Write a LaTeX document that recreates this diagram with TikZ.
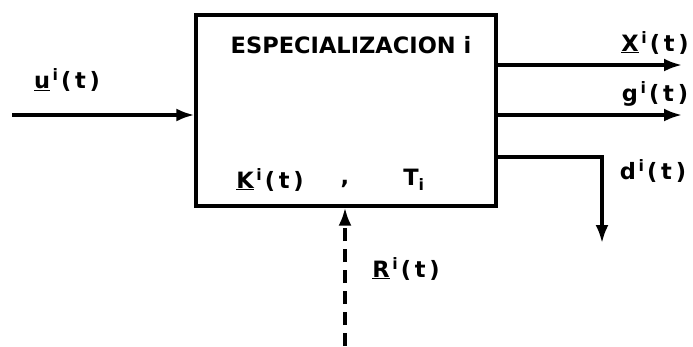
\documentclass[tikz,border=0pt]{standalone}
\usepackage{fontspec}
\setmainfont{DejaVu Sans}
\usepackage{tikz}
\usetikzlibrary{arrows.meta, positioning, calc}

\newcommand{\sv}[1]{\textsuperscript{\,#1\,}}

\begin{document}
\begin{tikzpicture}[
    x=1pt, y=-1pt,
    block/.style={rectangle, draw, line width=3.4pt, minimum width=300pt, minimum height=191pt, inner sep=0pt},
    lbl/.style={font=\fontsize{22.5}{24}\selectfont\bfseries, inner sep=1pt},
    line/.style={draw, -{Latex[length=18pt, width=13pt]}, line width=3.2pt},
    dline/.style={draw, -{Latex[length=18pt, width=13pt]}, line width=3.2pt, dash pattern=on 13pt off 8pt}
]
    \useasboundingbox (0,0) rectangle (693,346);
    % Block
    \node [block] (espec) at (346,110.5) {};
    \node [lbl] (title) at (351,45) {ESPECIALIZACION i};
    \node [lbl] (kvar) at (270,180) {\underline{K}\sv{i}(\,t\,)};
    \node [lbl] (comma) at (345,184) {,};
    \node [lbl] (tvar) at (414,180) {T\textsubscript{i}};

    % Ends
    \coordinate (uin) at (12,115);
    \coordinate (xout) at (682,65);
    \coordinate (gout) at (682,115);
    \coordinate (dout) at (602,243);
    \coordinate (rin) at (345,346);

    % Labels
    \node [lbl] (ulab) at (67,80) {\underline{u}\sv{i}(\,t\,)};
    \node [lbl] (xlab) at (655,43) {\underline{X}\sv{i}(\,t\,)};
    \node [lbl] (glab) at (655,94) {g\sv{i}(\,t\,)};
    \node [lbl] (dlab) at (653,171) {d\sv{i}(\,t\,)};
    \node [lbl] (rlab) at (406,269) {\underline{R}\sv{i}(\,t\,)};

    % Paths
    \path [line] (uin) -- (uin -| espec.west);
    \path [line] (xout -| espec.east) -- (xout);
    \path [line] (gout -| espec.east) -- (gout);
    \path [line] (espec.east |- 0,157) -| (dout);
    \path [dline] (rin) -- (rin |- espec.south);
\end{tikzpicture}
\end{document}
